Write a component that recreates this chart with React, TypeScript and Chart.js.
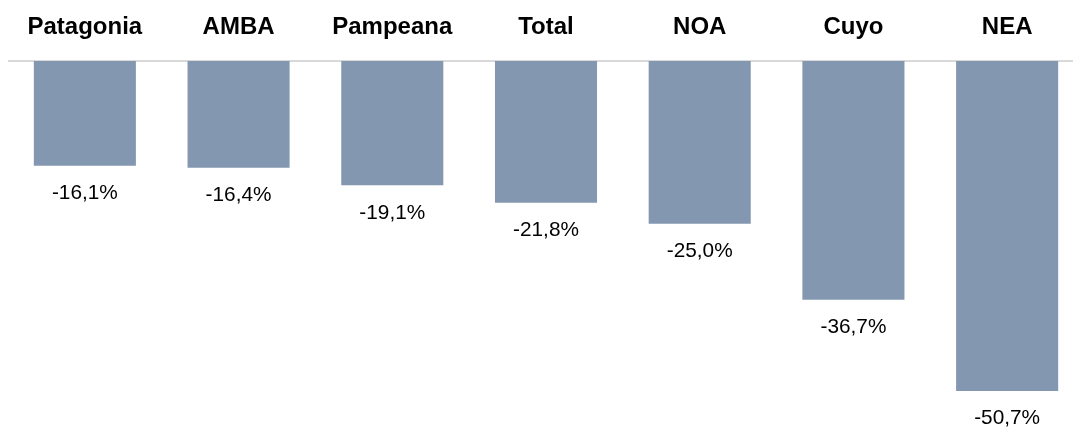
import React, { useEffect, useRef } from "react";
import { Chart, registerables } from "chart.js";

Chart.register(...registerables);

const categories: string[] = ["Patagonia", "AMBA", "Pampeana", "Total", "NOA", "Cuyo", "NEA"];
const values: number[] = [-16.1, -16.4, -19.1, -21.8, -25.0, -36.7, -50.7];

const BAR_COLOR = "#8497B0";

const fmt = (v: number) => v.toFixed(1).replace(".", ",") + "%";

const labelPlugin = {
  id: "valueLabels",
  afterDatasetsDraw(chart: any) {
    const ctx = chart.ctx as CanvasRenderingContext2D;
    const meta = chart.getDatasetMeta(0);
    ctx.save();
    ctx.font = '20.8px "Liberation Sans", Arial, sans-serif';
    ctx.fillStyle = "#000000";
    ctx.textAlign = "center";
    ctx.textBaseline = "alphabetic";
    meta.data.forEach((el: any, i: number) => {
      ctx.fillText(fmt(values[i]), el.x, el.y + 33.5);
    });
    ctx.restore();
  },
};

export default function App() {
  const ref = useRef<HTMLCanvasElement | null>(null);
  useEffect(() => {
    if (!ref.current) return;
    const chart = new Chart(ref.current, {
      type: "bar",
      data: {
        labels: categories,
        datasets: [
          {
            data: values,
            backgroundColor: BAR_COLOR,
            borderWidth: 0,
            barPercentage: 0.664,
            categoryPercentage: 1,
          },
        ],
      },
      options: {
        animation: false,
        responsive: true,
        maintainAspectRatio: false,
        layout: { padding: 0 },
        plugins: { legend: { display: false }, tooltip: { enabled: false } },
        scales: {
          x: {
            position: "top",
            grid: { display: false, drawTicks: false },
            border: { display: true, color: "#D9D9D9", width: 2 },
            ticks: {
              color: "#000000",
              padding: 19,
              font: { family: '"Liberation Sans", Arial, sans-serif', size: 24, weight: "bold" },
              maxRotation: 0,
              autoSkip: false,
            },
            afterFit: (scale: any) => {
              scale.height = 53;
            },
          },
          y: {
            display: false,
            min: -56.4,
            max: 0,
          },
        },
      },
      plugins: [labelPlugin],
    });
    return () => chart.destroy();
  }, []);
  return (
    <div style={{ position: "fixed", left: 8, top: 8, width: 1065, height: 420, overflow: "hidden" }}>
      <div style={{ width: 1076, height: 420, position: "relative" }}>
        <canvas ref={ref} />
      </div>
    </div>
  );
}
